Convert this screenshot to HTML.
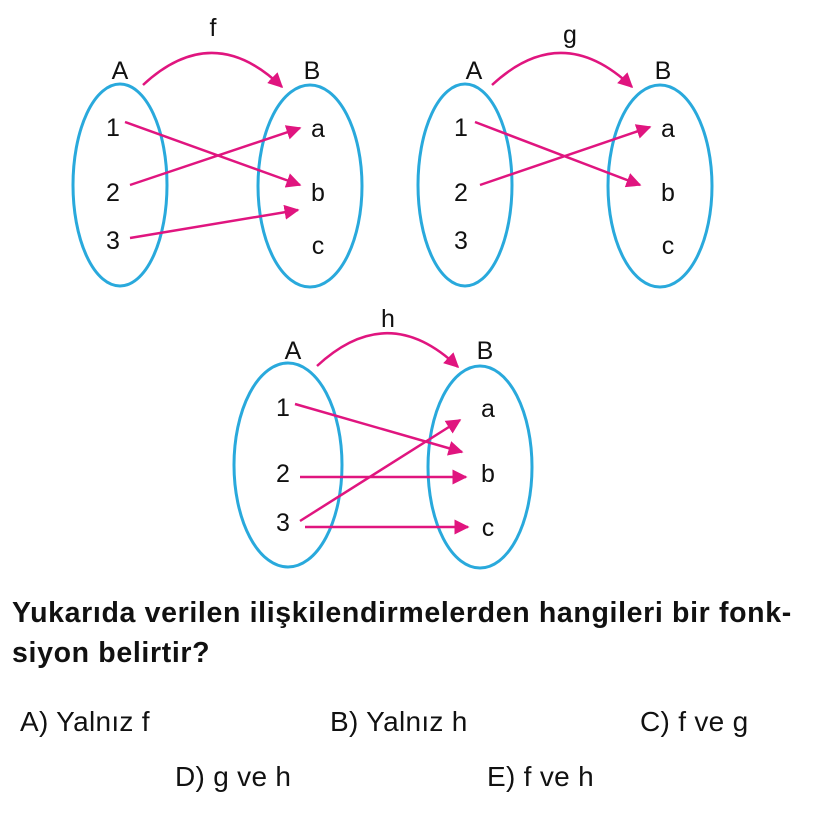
<!DOCTYPE html>
<html><head><meta charset="utf-8"><style>
body{margin:0;background:#fff;width:816px;height:831px;overflow:hidden;font-family:"Liberation Sans",sans-serif}
svg{position:absolute;left:0;top:0}
.t{position:absolute;font-size:28px;color:#111;white-space:nowrap;letter-spacing:0.3px}
.q{position:absolute;left:12px;font-size:28.5px;font-weight:bold;color:#111;white-space:nowrap;letter-spacing:0.65px}
</style></head><body>
<svg width="816" height="831" viewBox="0 0 816 831">
<defs><marker id="m" viewBox="0 0 10 10" refX="9" refY="5" markerWidth="6" markerHeight="6" orient="auto"><path d="M0,0L10,5L0,10z" fill="#e0157f"/></marker></defs>
<g fill="none" stroke="#29a9dc" stroke-width="3">
<ellipse cx="120" cy="185" rx="47" ry="101"/><ellipse cx="310" cy="186" rx="52" ry="101"/>
<ellipse cx="465" cy="185" rx="47" ry="101"/><ellipse cx="660" cy="186" rx="52" ry="101"/>
<ellipse cx="288" cy="465" rx="54" ry="102"/><ellipse cx="480" cy="467" rx="52" ry="101"/>
</g>
<g fill="none" stroke="#e0157f" stroke-width="2.5" marker-end="url(#m)">
<path d="M143,85 Q213,20 282,87"/>
<path d="M492,85 Q562,20 632,87"/>
<path d="M317,366 Q388,300 458,367"/>
<line x1="125" y1="122" x2="300" y2="185"/><line x1="130" y1="185" x2="300" y2="128"/><line x1="130" y1="238" x2="298" y2="210"/>
<line x1="475" y1="122" x2="640" y2="185"/><line x1="480" y1="185" x2="650" y2="127"/>
<line x1="295" y1="404" x2="462" y2="452"/><line x1="300" y1="477" x2="466" y2="477"/><line x1="300" y1="521" x2="460" y2="420"/><line x1="305" y1="527" x2="468" y2="527"/>
</g>
<g font-family="Liberation Sans, sans-serif" font-size="25" fill="#111" text-anchor="middle">
<text x="213" y="36">f</text><text x="120" y="79">A</text><text x="312" y="79">B</text>
<text x="113" y="136">1</text><text x="113" y="201">2</text><text x="113" y="249">3</text>
<text x="318" y="137">a</text><text x="318" y="201">b</text><text x="318" y="254">c</text>
<text x="570" y="43">g</text><text x="474" y="79">A</text><text x="663" y="79">B</text>
<text x="461" y="136">1</text><text x="461" y="201">2</text><text x="461" y="249">3</text>
<text x="668" y="137">a</text><text x="668" y="201">b</text><text x="668" y="254">c</text>
<text x="388" y="327">h</text><text x="293" y="359">A</text><text x="485" y="359">B</text>
<text x="283" y="416">1</text><text x="283" y="482">2</text><text x="283" y="531">3</text>
<text x="488" y="417">a</text><text x="488" y="482">b</text><text x="488" y="536">c</text>
</g>
</svg>
<div class="q" style="top:597px">Yukarıda verilen ilişkilendirmelerden hangileri bir fonk-</div>
<div class="q" style="top:637px">siyon belirtir?</div>
<div class="t" style="left:20px;top:706px">A) Yalnız f</div>
<div class="t" style="left:330px;top:706px">B) Yalnız h</div>
<div class="t" style="left:640px;top:706px">C) f ve g</div>
<div class="t" style="left:175px;top:761px">D) g ve h</div>
<div class="t" style="left:487px;top:761px">E) f ve h</div>
</body></html>
